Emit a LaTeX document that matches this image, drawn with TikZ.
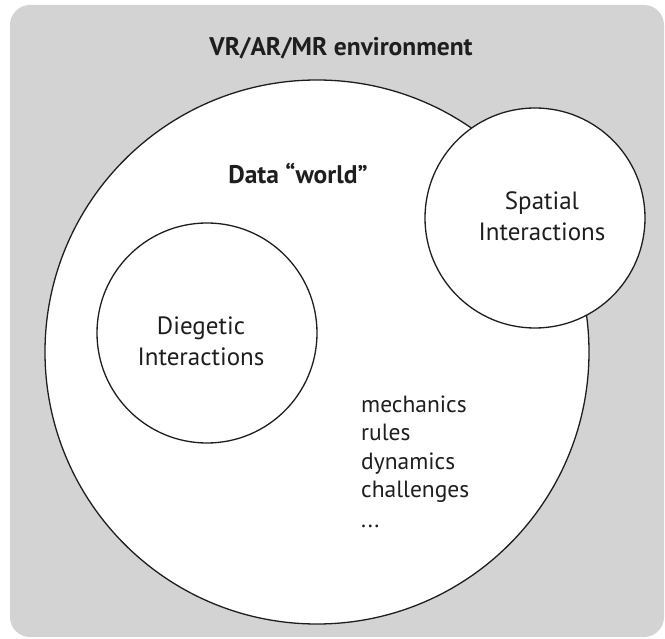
\documentclass[tikz,border=0pt]{standalone}
\usepackage{fontspec}
\setmainfont{PT Sans}
\definecolor{bggray}{RGB}{211,211,211}
\definecolor{ink}{RGB}{30,30,30}
\begin{document}
\begin{tikzpicture}[x=1pt,y=-1pt,
  ring/.style={circle, draw=ink, line width=1.3pt, fill=white, inner sep=0pt},
  lbl/.style={font=\fontsize{25}{31}\selectfont, align=center, text=ink, inner sep=0pt},
  head/.style={font=\fontsize{25.5}{30}\selectfont\bfseries, text=ink, inner sep=0pt},
  item/.style={font=\fontsize{23.5}{28}\selectfont, text=ink, anchor=base west, inner sep=0pt}]
\useasboundingbox (0,0) rectangle (665,639);
\fill[bggray, rounded corners=20pt] (10,5) rectangle (664,637);
\node[ring, minimum size=544pt] (world) at (317,352) {};
\node[ring, minimum size=220pt] (dieg) at (207,333) {};
\node[ring, minimum size=220pt] (spat) at (535,218) {};
\node[head] (env) at (341,48) {VR/AR/MR environment};
\node[head] (data) at (298,173) {Data “world”};
\node[lbl] (diegtxt) at (201,341) {Diegetic\\Interactions};
\node[lbl] (spattxt) at (542,216) {Spatial\\Interactions};
\node[item] (i1) at (361,413) {mechanics};
\node[item] (i2) at (361,441) {rules};
\node[item] (i3) at (361,469) {dynamics};
\node[item] (i4) at (361,497) {challenges};
\node[item] (i5) at (361,527) {...};
\end{tikzpicture}
\end{document}
